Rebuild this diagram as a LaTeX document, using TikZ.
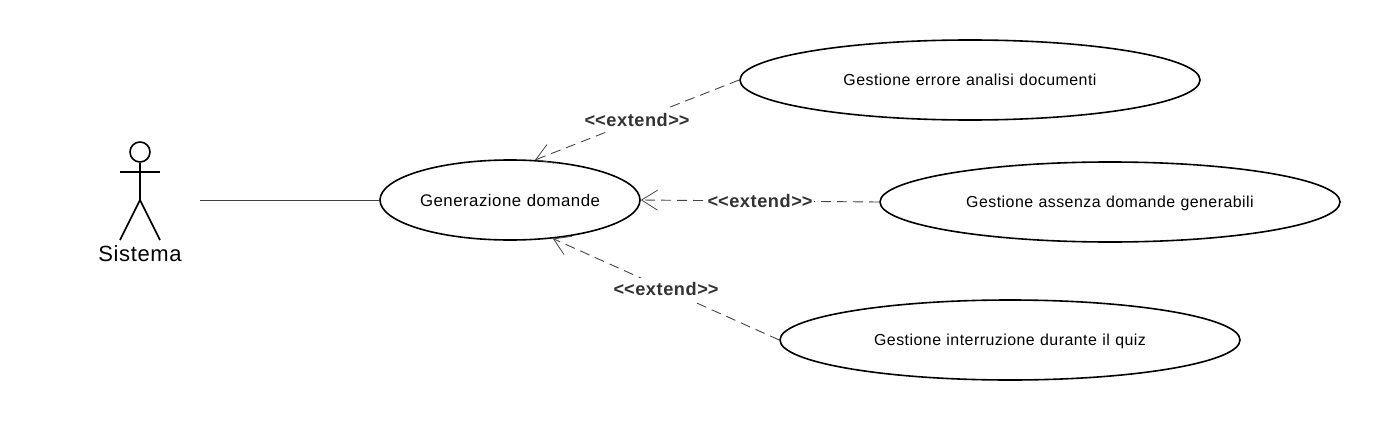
\documentclass[tikz,border=0pt]{standalone}
\usepackage{fontspec}
\setmainfont[WordSpace=1.1,LetterSpace=3]{Liberation Sans}
\usetikzlibrary{shapes.geometric,arrows.meta}
\newcommand{\extendtext}{<\kern0pt<extend>\kern0pt>}
\tikzset{
  usecase/.style={ellipse,draw=black,line width=1.6pt,fill=white,inner sep=0pt,minimum height=80pt,text height=11pt,text depth=1pt,font=\fontsize{15.9}{18}\selectfont},
  small/.style={usecase,minimum width=260pt,text height=13pt,text depth=0pt,font=\fontsize{16.8}{19}\selectfont},
  big/.style={usecase,minimum width=460pt},
  stick/.style={draw=black,line width=1.6pt},
  assoc/.style={draw=black!75,line width=0.9pt},
  ext/.style={draw=black!72,line width=0.9pt,dash pattern=on 10pt off 6pt,-{Straight Barb[length=16pt,width=20pt,line width=0.8pt]}},
  extlabel/.style={fill=white,inner xsep=1pt,inner ysep=5pt,text=black!80,font=\bfseries\fontsize{18.2}{21}\selectfont},
  actorname/.style={inner sep=0pt,font=\fontsize{22}{26}\selectfont}
}
\begin{document}
\begin{tikzpicture}[x=1pt,y=-1pt]
\useasboundingbox[fill=white] (0,0) rectangle (1380,420);
\node[small] (gen) at (510,200) {Generazione domande};
\node[big] (err) at (970,80) {Gestione errore analisi documenti};
\node[big] (ass) at (1110,202) {Gestione assenza domande generabili};
\node[big] (int) at (1010,340) {Gestione interruzione durante il quiz};
% actor
\node[circle,stick,minimum size=20pt,inner sep=0pt] (head) at (140,152) {};
\coordinate (hip) at (140,200);
\coordinate (armL) at (120,172);
\coordinate (armR) at (160,172);
\coordinate (legL) at (120,240);
\coordinate (legR) at (160,240);
\coordinate (port) at (200,200);
\draw[stick] (head.south) -- (hip);
\draw[stick] (armL) -- (armR);
\draw[stick] (legL) -- (hip) -- (legR);
\node[actorname] (sys) at (140,254) {Sistema};
\draw[assoc] (port) -- (gen.west);
\draw[ext] (err.west) -- node[extlabel,pos=0.5] (l1) {\extendtext} (gen.58.6);
\draw[ext] (ass.west) -- node[extlabel,pos=0.5] (l2) {\extendtext} (gen.east);
\draw[ext] (int.west) -- node[extlabel,pos=0.5] (l3) {\extendtext} (gen.-42.8);
\end{tikzpicture}
\end{document}
